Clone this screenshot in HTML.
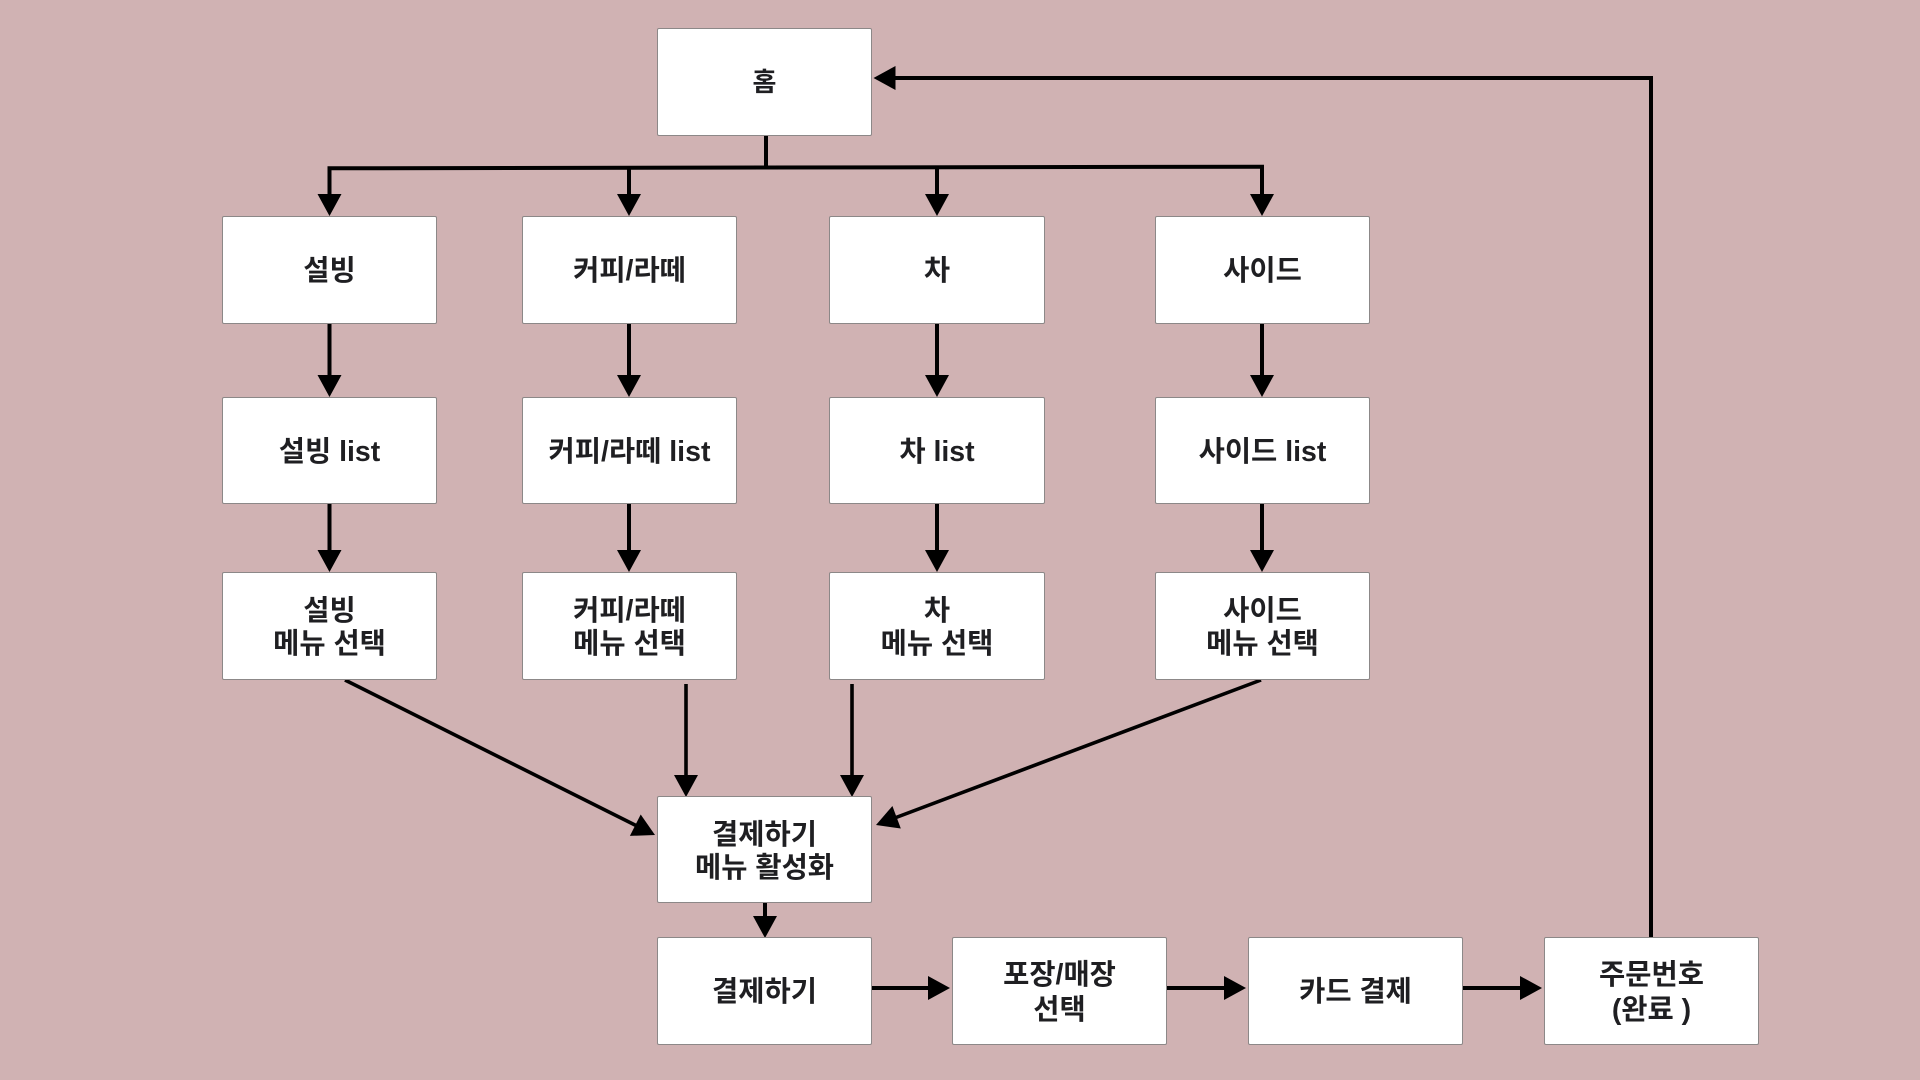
<!DOCTYPE html>
<html>
<head>
<meta charset="utf-8">
<style>
  html, body { margin:0; padding:0; }
  body { width:1920px; height:1080px; background:#d0b2b3; position:relative; overflow:hidden;
         font-family:"Liberation Sans","Noto Sans CJK KR","NanumGothic",sans-serif; }
  .b { position:absolute; box-sizing:border-box; background:#fff; border:1.5px solid #8c8888; border-radius:2px;
       display:flex; align-items:center; justify-content:center; text-align:center; padding-top:3px;
       font-size:28.5px; font-weight:bold; color:#1f1f22; line-height:33px; width:215px; height:108px; }
  .t { line-height:35px; }
  svg { position:absolute; left:0; top:0; }
</style>
</head>
<body>
<svg width="1920" height="1080" viewBox="0 0 1920 1080">
  <g stroke="#000" stroke-width="4" fill="none">
    <line x1="766" y1="136" x2="766" y2="168"/>
    <line x1="327.5" y1="168.3" x2="1264" y2="166.7"/>
    <line x1="329.5" y1="168" x2="329.5" y2="196"/>
    <line x1="629" y1="168" x2="629" y2="196"/>
    <line x1="937" y1="167" x2="937" y2="196"/>
    <line x1="1262" y1="167" x2="1262" y2="196"/>
    <line x1="329.5" y1="323" x2="329.5" y2="377"/>
    <line x1="629" y1="323" x2="629" y2="377"/>
    <line x1="937" y1="323" x2="937" y2="377"/>
    <line x1="1262" y1="323" x2="1262" y2="377"/>
    <line x1="329.5" y1="504" x2="329.5" y2="552"/>
    <line x1="629" y1="504" x2="629" y2="552"/>
    <line x1="937" y1="504" x2="937" y2="552"/>
    <line x1="1262" y1="504" x2="1262" y2="552"/>
    <line x1="345" y1="680" x2="636" y2="825.5" stroke-width="3.6"/>
    <line x1="686" y1="684" x2="686" y2="777" stroke-width="3.6"/>
    <line x1="852" y1="684" x2="852" y2="777" stroke-width="3.6"/>
    <line x1="1261" y1="680" x2="896" y2="817.5" stroke-width="3.6"/>
    <line x1="765" y1="903" x2="765" y2="918"/>
    <line x1="872" y1="988" x2="930" y2="988"/>
    <line x1="1167" y1="988" x2="1226" y2="988"/>
    <line x1="1463" y1="988" x2="1522" y2="988"/>
    <polyline points="1651,937 1651,78 893,78"/>
  </g>
  <g fill="#000">
    <polygon points="317.5,194 341.5,194 329.5,216"/>
    <polygon points="617,194 641,194 629,216"/>
    <polygon points="925,194 949,194 937,216"/>
    <polygon points="1250,194 1274,194 1262,216"/>

    <polygon points="317.5,375 341.5,375 329.5,397"/>
    <polygon points="617,375 641,375 629,397"/>
    <polygon points="925,375 949,375 937,397"/>
    <polygon points="1250,375 1274,375 1262,397"/>

    <polygon points="317.5,550 341.5,550 329.5,572"/>
    <polygon points="617,550 641,550 629,572"/>
    <polygon points="925,550 949,550 937,572"/>
    <polygon points="1250,550 1274,550 1262,572"/>

    <polygon points="655,835 640.7,814.5 629.9,835.9"/>
    <polygon points="674,775 698,775 686,797"/>
    <polygon points="840,775 864,775 852,797"/>
    <polygon points="876,825 892.4,806 900.8,828.5"/>

    <polygon points="753,916 777,916 765,938"/>

    <polygon points="928,976 928,1000 950,988"/>
    <polygon points="1224,976 1224,1000 1246,988"/>
    <polygon points="1520,976 1520,1000 1542,988"/>

    <polygon points="895.5,66 895.5,90 873.5,78"/>
  </g>
</svg>

<div class="b" style="left:657px;top:28px;font-size:26px;padding-top:0;">홈</div>

<div class="b" style="left:222px;top:216px;">설빙</div>
<div class="b" style="left:522px;top:216px;">커피/라떼</div>
<div class="b" style="left:829px;top:216px;width:216px;">차</div>
<div class="b" style="left:1155px;top:216px;">사이드</div>

<div class="b" style="left:222px;top:397px;height:107px;">설빙 list</div>
<div class="b" style="left:522px;top:397px;height:107px;">커피/라떼 list</div>
<div class="b" style="left:829px;top:397px;height:107px;width:216px;">차 list</div>
<div class="b" style="left:1155px;top:397px;height:107px;">사이드 list</div>

<div class="b" style="left:222px;top:572px;">설빙<br>메뉴 선택</div>
<div class="b" style="left:522px;top:572px;">커피/라떼<br>메뉴 선택</div>
<div class="b" style="left:829px;top:572px;width:216px;">차<br>메뉴 선택</div>
<div class="b" style="left:1155px;top:572px;">사이드<br>메뉴 선택</div>

<div class="b" style="left:657px;top:796px;height:107px;padding-top:4px;">결제하기<br>메뉴 활성화</div>

<div class="b t" style="left:657px;top:937px;">결제하기</div>
<div class="b t" style="left:952px;top:937px;">포장/매장<br>선택</div>
<div class="b t" style="left:1248px;top:937px;">카드 결제</div>
<div class="b t" style="left:1544px;top:937px;">주문번호<br>(완료 )</div>
</body>
</html>
